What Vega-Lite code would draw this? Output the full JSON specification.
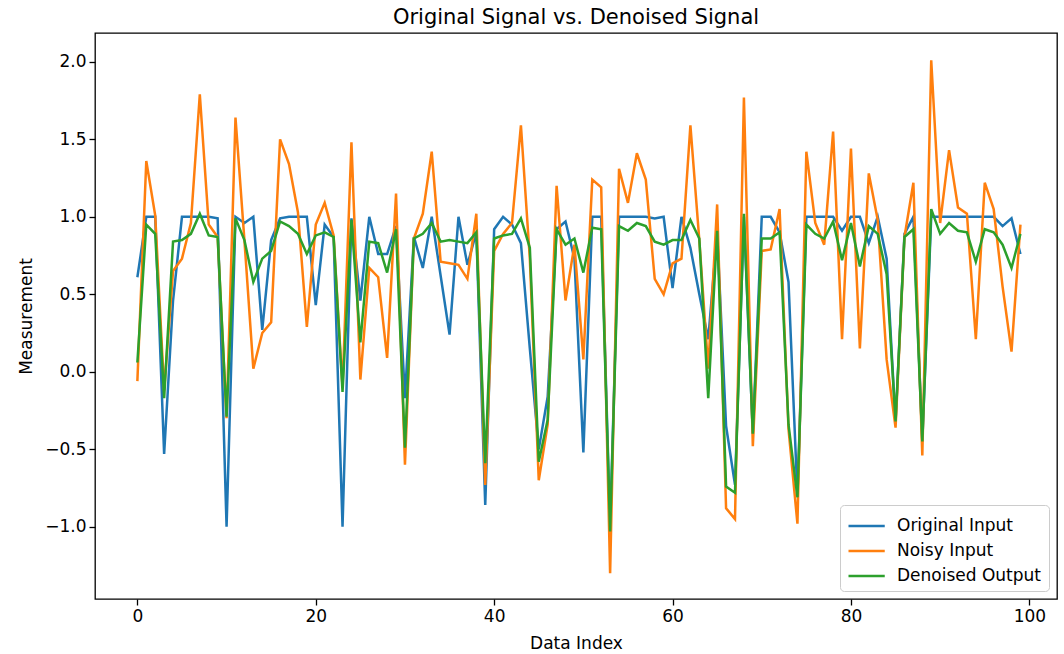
{
  "$schema": "https://vega.github.io/schema/vega-lite/v6.json",
  "width": 962,
  "height": 566,
  "autosize": {"type": "none"},
  "padding": {"left": 95, "top": 33, "right": 7, "bottom": 55},
  "background": "white",
  "title": {"text": "Original Signal vs. Denoised Signal", "fontSize": 21, "font": "DejaVu Sans", "fontWeight": "normal", "color": "#000", "offset": 5, "anchor": "middle"},
  "config": {
    "font": "DejaVu Sans",
    "view": {"stroke": "#000", "strokeWidth": 1.3},
    "axis": {"domain": false, "grid": false, "tickColor": "#000", "tickSize": 6, "tickWidth": 1.3, "labelFontSize": 17, "labelColor": "#000", "titleFontSize": 17, "titleColor": "#000", "titleFontWeight": "normal", "labelPadding": 3}
  },
  "datasets": {
    "orig": [
{"x":0,"y":0.61},{"x":1,"y":1.0},{"x":2,"y":1.0},{"x":3,"y":-0.53},{"x":4,"y":0.46},{"x":5,"y":1.0},{"x":6,"y":1.0},{"x":7,"y":1.0},{"x":8,"y":1.0},{"x":9,"y":0.99},
{"x":10,"y":-1.0},{"x":11,"y":1.0},{"x":12,"y":0.96},{"x":13,"y":1.0},{"x":14,"y":0.27},{"x":15,"y":0.85},{"x":16,"y":0.99},{"x":17,"y":1.0},{"x":18,"y":1.0},{"x":19,"y":1.0},
{"x":20,"y":0.43},{"x":21,"y":0.95},{"x":22,"y":0.87},{"x":23,"y":-1.0},{"x":24,"y":0.99},{"x":25,"y":0.46},{"x":26,"y":1.0},{"x":27,"y":0.76},{"x":28,"y":0.76},{"x":29,"y":0.94},
{"x":30,"y":-0.17},{"x":31,"y":0.87},{"x":32,"y":0.67},{"x":33,"y":1.0},{"x":34,"y":0.62},{"x":35,"y":0.24},{"x":36,"y":1.0},{"x":37,"y":0.69},{"x":38,"y":0.9},{"x":39,"y":-0.86},
{"x":40,"y":0.92},{"x":41,"y":1.0},{"x":42,"y":0.95},{"x":43,"y":0.83},{"x":44,"y":0.15},{"x":45,"y":-0.5},{"x":46,"y":-0.16},{"x":47,"y":0.92},{"x":48,"y":0.97},{"x":49,"y":0.73},
{"x":50,"y":-0.52},{"x":51,"y":1.0},{"x":52,"y":1.0},{"x":53,"y":-1.0},{"x":54,"y":1.0},{"x":55,"y":1.0},{"x":56,"y":1.0},{"x":57,"y":1.0},{"x":58,"y":0.99},{"x":59,"y":1.0},
{"x":60,"y":0.54},{"x":61,"y":1.0},{"x":62,"y":0.8},{"x":63,"y":0.5},{"x":64,"y":0.21},{"x":65,"y":0.9},{"x":66,"y":-0.35},{"x":67,"y":-0.73},{"x":68,"y":1.0},{"x":69,"y":-0.4},
{"x":70,"y":1.0},{"x":71,"y":1.0},{"x":72,"y":0.9},{"x":73,"y":0.58},{"x":74,"y":-0.8},{"x":75,"y":1.0},{"x":76,"y":1.0},{"x":77,"y":1.0},{"x":78,"y":1.0},{"x":79,"y":0.91},
{"x":80,"y":1.0},{"x":81,"y":1.0},{"x":82,"y":0.83},{"x":83,"y":1.0},{"x":84,"y":0.73},{"x":85,"y":-0.33},{"x":86,"y":0.89},{"x":87,"y":1.0},{"x":88,"y":-0.45},{"x":89,"y":1.0},
{"x":90,"y":1.0},{"x":91,"y":1.0},{"x":92,"y":1.0},{"x":93,"y":1.0},{"x":94,"y":1.0},{"x":95,"y":1.0},{"x":96,"y":1.0},{"x":97,"y":0.94},{"x":98,"y":0.99},{"x":99,"y":0.76}
    ],
    "noisy": [
{"x":0,"y":-0.06},{"x":1,"y":1.36},{"x":2,"y":1.01},{"x":3,"y":-0.12},{"x":4,"y":0.65},{"x":5,"y":0.73},{"x":6,"y":0.96},{"x":7,"y":1.79},{"x":8,"y":0.95},{"x":9,"y":0.87},
{"x":10,"y":-0.3},{"x":11,"y":1.64},{"x":12,"y":0.85},{"x":13,"y":0.02},{"x":14,"y":0.25},{"x":15,"y":0.32},{"x":16,"y":1.5},{"x":17,"y":1.34},{"x":18,"y":1.03},{"x":19,"y":0.29},
{"x":20,"y":0.95},{"x":21,"y":1.09},{"x":22,"y":0.88},{"x":23,"y":-0.1},{"x":24,"y":1.48},{"x":25,"y":-0.05},{"x":26,"y":0.67},{"x":27,"y":0.61},{"x":28,"y":0.09},{"x":29,"y":1.15},
{"x":30,"y":-0.6},{"x":31,"y":0.86},{"x":32,"y":1.02},{"x":33,"y":1.42},{"x":34,"y":0.71},{"x":35,"y":0.7},{"x":36,"y":0.69},{"x":37,"y":0.6},{"x":38,"y":1.02},{"x":39,"y":-0.73},
{"x":40,"y":0.78},{"x":41,"y":0.89},{"x":42,"y":0.96},{"x":43,"y":1.59},{"x":44,"y":0.73},{"x":45,"y":-0.7},{"x":46,"y":-0.34},{"x":47,"y":1.2},{"x":48,"y":0.46},{"x":49,"y":0.82},
{"x":50,"y":0.08},{"x":51,"y":1.24},{"x":52,"y":1.19},{"x":53,"y":-1.3},{"x":54,"y":1.31},{"x":55,"y":1.09},{"x":56,"y":1.41},{"x":57,"y":1.24},{"x":58,"y":0.6},{"x":59,"y":0.5},
{"x":60,"y":0.7},{"x":61,"y":0.73},{"x":62,"y":1.59},{"x":63,"y":0.85},{"x":64,"y":0.02},{"x":65,"y":1.08},{"x":66,"y":-0.88},{"x":67,"y":-0.95},{"x":68,"y":1.77},{"x":69,"y":-0.48},
{"x":70,"y":0.78},{"x":71,"y":0.79},{"x":72,"y":1.05},{"x":73,"y":-0.37},{"x":74,"y":-0.98},{"x":75,"y":1.42},{"x":76,"y":0.96},{"x":77,"y":0.82},{"x":78,"y":1.55},{"x":79,"y":0.21},
{"x":80,"y":1.44},{"x":81,"y":0.15},{"x":82,"y":1.28},{"x":83,"y":0.98},{"x":84,"y":0.08},{"x":85,"y":-0.36},{"x":86,"y":0.87},{"x":87,"y":1.22},{"x":88,"y":-0.54},{"x":89,"y":2.01},
{"x":90,"y":0.96},{"x":91,"y":1.43},{"x":92,"y":1.06},{"x":93,"y":1.02},{"x":94,"y":0.21},{"x":95,"y":1.22},{"x":96,"y":1.05},{"x":97,"y":0.55},{"x":98,"y":0.13},{"x":99,"y":0.95}
    ],
    "den": [
{"x":0,"y":0.06},{"x":1,"y":0.95},{"x":2,"y":0.89},{"x":3,"y":-0.17},{"x":4,"y":0.84},{"x":5,"y":0.85},{"x":6,"y":0.89},{"x":7,"y":1.02},{"x":8,"y":0.88},{"x":9,"y":0.87},
{"x":10,"y":-0.29},{"x":11,"y":0.99},{"x":12,"y":0.85},{"x":13,"y":0.58},{"x":14,"y":0.73},{"x":15,"y":0.78},{"x":16,"y":0.97},{"x":17,"y":0.94},{"x":18,"y":0.89},{"x":19,"y":0.76},
{"x":20,"y":0.88},{"x":21,"y":0.9},{"x":22,"y":0.87},{"x":23,"y":-0.13},{"x":24,"y":0.98},{"x":25,"y":0.19},{"x":26,"y":0.84},{"x":27,"y":0.83},{"x":28,"y":0.64},{"x":29,"y":0.92},
{"x":30,"y":-0.49},{"x":31,"y":0.86},{"x":32,"y":0.89},{"x":33,"y":0.96},{"x":34,"y":0.84},{"x":35,"y":0.85},{"x":36,"y":0.84},{"x":37,"y":0.83},{"x":38,"y":0.9},{"x":39,"y":-0.59},
{"x":40,"y":0.86},{"x":41,"y":0.88},{"x":42,"y":0.89},{"x":43,"y":0.99},{"x":44,"y":0.8},{"x":45,"y":-0.58},{"x":46,"y":-0.31},{"x":47,"y":0.92},{"x":48,"y":0.82},{"x":49,"y":0.86},
{"x":50,"y":0.64},{"x":51,"y":0.93},{"x":52,"y":0.92},{"x":53,"y":-1.03},{"x":54,"y":0.94},{"x":55,"y":0.91},{"x":56,"y":0.96},{"x":57,"y":0.94},{"x":58,"y":0.84},{"x":59,"y":0.82},
{"x":60,"y":0.85},{"x":61,"y":0.85},{"x":62,"y":0.98},{"x":63,"y":0.86},{"x":64,"y":-0.17},{"x":65,"y":0.91},{"x":66,"y":-0.74},{"x":67,"y":-0.78},{"x":68,"y":1.02},{"x":69,"y":-0.4},
{"x":70,"y":0.86},{"x":71,"y":0.86},{"x":72,"y":0.9},{"x":73,"y":-0.34},{"x":74,"y":-0.81},{"x":75,"y":0.95},{"x":76,"y":0.89},{"x":77,"y":0.86},{"x":78,"y":0.97},{"x":79,"y":0.72},
{"x":80,"y":0.96},{"x":81,"y":0.68},{"x":82,"y":0.94},{"x":83,"y":0.89},{"x":84,"y":0.63},{"x":85,"y":-0.32},{"x":86,"y":0.87},{"x":87,"y":0.92},{"x":88,"y":-0.45},{"x":89,"y":1.05},
{"x":90,"y":0.89},{"x":91,"y":0.96},{"x":92,"y":0.91},{"x":93,"y":0.9},{"x":94,"y":0.71},{"x":95,"y":0.92},{"x":96,"y":0.9},{"x":97,"y":0.82},{"x":98,"y":0.67},{"x":99,"y":0.89}
    ]
  },
  "encoding": {
    "x": {"field": "x", "type": "quantitative", "title": "Data Index", "scale": {"domain": [-4.75, 103.1], "nice": false, "zero": false}, "axis": {"values": [0, 20, 40, 60, 80, 100], "titlePadding": 11}},
    "y": {"field": "y", "type": "quantitative", "title": "Measurement", "scale": {"domain": [-1.466, 2.186], "nice": false, "zero": false}, "axis": {"values": [-1.0, -0.5, 0.0, 0.5, 1.0, 1.5, 2.0], "format": ".1f", "titlePadding": 9}},
    "color": {
      "datum": "Original Input",
      "type": "nominal",
      "scale": {"domain": ["Original Input", "Noisy Input", "Denoised Output"], "range": ["#1f77b4", "#ff7f0e", "#2ca02c"]},
      "legend": {"title": null, "orient": "bottom-right", "offset": 8, "symbolType": "M-1,0H1.9", "symbolSize": 625, "symbolStrokeWidth": 2.5, "labelFontSize": 17, "labelColor": "#000", "labelOffset": 22, "rowPadding": 3, "padding": 7, "fillColor": "rgba(255,255,255,0.8)", "strokeColor": "#cccccc", "cornerRadius": 4}
    }
  },
  "layer": [
    {"data": {"name": "orig"}, "mark": {"type": "line", "strokeWidth": 2.5}, "encoding": {"color": {"datum": "Original Input", "type": "nominal"}}},
    {"data": {"name": "noisy"}, "mark": {"type": "line", "strokeWidth": 2.5}, "encoding": {"color": {"datum": "Noisy Input", "type": "nominal"}}},
    {"data": {"name": "den"}, "mark": {"type": "line", "strokeWidth": 2.5}, "encoding": {"color": {"datum": "Denoised Output", "type": "nominal"}}}
  ]
}
